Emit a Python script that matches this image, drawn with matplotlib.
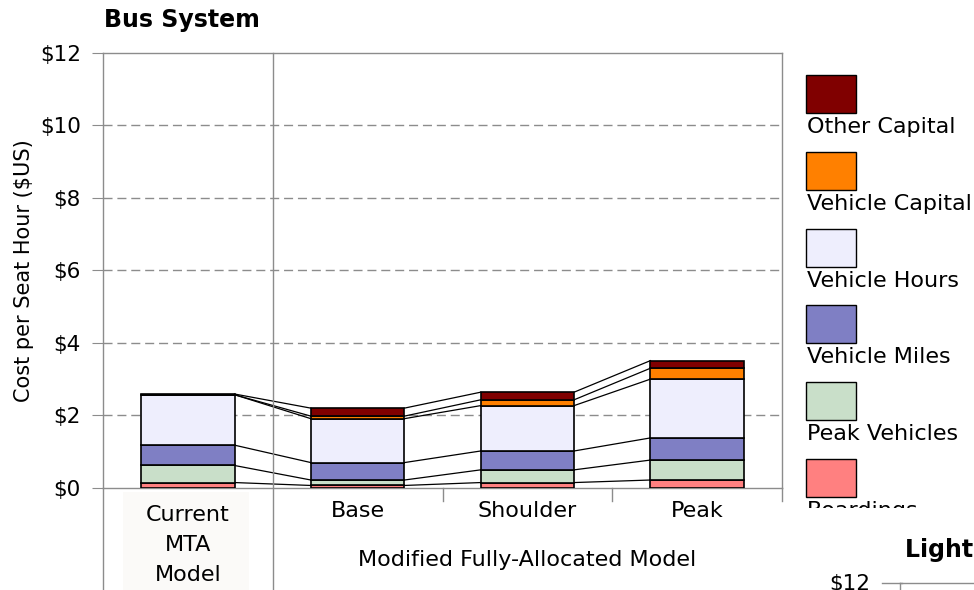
import numpy as np
import matplotlib.pyplot as plt
from matplotlib.patches import Rectangle
from matplotlib.transforms import Bbox

# --- Data (cost per seat hour, $US) ---
categories = ["Current\nMTA\nModel", "Base", "Shoulder", "Peak"]
group_label = "Modified Fully-Allocated Model"

series_names = ["Boardings", "Peak Vehicles", "Vehicle Miles",
                "Vehicle Hours", "Vehicle Capital", "Other Capital"]
boardings = [0.15, 0.07, 0.15, 0.22]
peak_vehicles = [0.47, 0.15, 0.35, 0.55]
vehicle_miles = [0.56, 0.48, 0.52, 0.61]
vehicle_hours = [1.39, 1.21, 1.25, 1.62]
vehicle_capital = [0.00, 0.07, 0.16, 0.30]
other_capital = [0.02, 0.22, 0.21, 0.21]

y_ticks = [0, 2, 4, 6, 8, 10, 12]

# --- Style ---
COLORS = ["#ff8080", "#c9dfc9", "#7f7fc4", "#eeeefd", "#ff8000", "#800000"]
GRID = "#8c8c8c"
FS = 16
TICK_FS = 15.5
BAR_W = 0.55

plt.rcParams["font.family"] = ["DejaVu Sans"]

fig = plt.figure(figsize=(9.74, 5.9), dpi=100)
ax = fig.add_axes([103 / 974, 1 - 488 / 590, 679 / 974, (488 - 52.5) / 590])

x = np.arange(len(categories))
values = [boardings, peak_vehicles, vehicle_miles, vehicle_hours,
          vehicle_capital, other_capital]

bottom = np.zeros(len(categories))
tops = []
for vals, col in zip(values, COLORS):
    vals = np.array(vals)
    ax.bar(x, vals, BAR_W, bottom=bottom, color=col, edgecolor="black",
           linewidth=1.2, zorder=3)
    bottom = bottom + vals
    tops.append(bottom.copy())

# series lines between neighbouring bars
for top in tops:
    for i in range(len(categories) - 1):
        ax.plot([x[i] + BAR_W / 2, x[i + 1] - BAR_W / 2], [top[i], top[i + 1]],
                color="black", linewidth=0.9, zorder=2)

ax.set_xlim(-0.5, len(categories) - 0.5)
ax.set_ylim(0, 12)
ax.set_yticks(y_ticks)
ax.set_yticklabels([f"${v}" for v in y_ticks], fontsize=TICK_FS)
for v in y_ticks[1:-1]:
    ax.axhline(v, color=GRID, linestyle=(0, (6.5, 3.5)), linewidth=1, zorder=1)

ax.set_xticks([])
ax.tick_params(axis="y", length=8, color=GRID, pad=8)
for spine in ax.spines.values():
    spine.set_color(GRID)
    spine.set_linewidth(1)

ax.set_ylabel("Cost per Seat Hour ($US)", fontsize=15, labelpad=4)

# category separators / multi-level axis lines
trans = ax.get_xaxis_transform()
ax.plot([-0.5, -0.5], [0, -0.32], transform=trans, color=GRID, lw=1, clip_on=False)
ax.plot([0.5, 0.5], [1, -0.32], transform=trans, color=GRID, lw=1, clip_on=False)
for b in [1.5, 2.5, 3.5]:
    ax.plot([b, b], [0, -0.03], transform=trans, color=GRID, lw=1, clip_on=False)

# category labels
ax.add_patch(Rectangle((-0.38, -0.32), 0.74, 0.31, transform=trans,
                       facecolor="#fbfaf8", edgecolor="none", clip_on=False))
ax.text(x[0], (488 - 545) / 435.5, categories[0], transform=trans, ha="center",
        va="center", fontsize=FS, linespacing=1.62)
for i in range(1, len(categories)):
    ax.text(x[i], -0.03, categories[i], transform=trans, ha="center", va="top",
            fontsize=FS)
ax.text((x[1] + x[-1]) / 2, (488 - 560) / 435.5, group_label, transform=trans,
        ha="center", va="center", fontsize=FS)

# title
fig.text(104 / 974, 1 - 20 / 590, "Bus System", fontsize=17, fontweight="bold",
         ha="left", va="center")

# legend (manual, top-down, clipped at the bottom like the original)
clip = Bbox.from_extents(790, 590 - 508, 974, 590 - 60)
for k, name in enumerate(reversed(series_names)):
    col = COLORS[len(COLORS) - 1 - k]
    y_top = 75 + k * 76.8
    fig.add_artist(Rectangle((806 / 974, 1 - (y_top + 38) / 590), 50 / 974, 38 / 590,
                             transform=fig.transFigure, facecolor=col,
                             edgecolor="black", linewidth=1))
    t = fig.text(807 / 974, 1 - (y_top + 52) / 590, name, fontsize=FS,
                 ha="left", va="center")
    t.set_clip_box(clip)
    t.set_clip_on(True)

# edge of the neighbouring chart
fig.text(905 / 974, 1 - 550 / 590, "Light Rail", fontsize=17, fontweight="bold",
         ha="left", va="center")
fig.text(870 / 974, 1 - 584 / 590, "$12", fontsize=TICK_FS, ha="right", va="center")
fig.add_artist(plt.Line2D([882 / 974, 902 / 974], [1 - 583 / 590, 1 - 583 / 590],
                          color=GRID, lw=1))
fig.add_artist(plt.Line2D([900 / 974, 900 / 974], [1 - 583 / 590, 0],
                          color=GRID, lw=1))
fig.add_artist(plt.Line2D([900 / 974, 1], [1 - 583 / 590, 1 - 583 / 590],
                          color=GRID, lw=1))

fig.savefig("out.png", dpi=100)
